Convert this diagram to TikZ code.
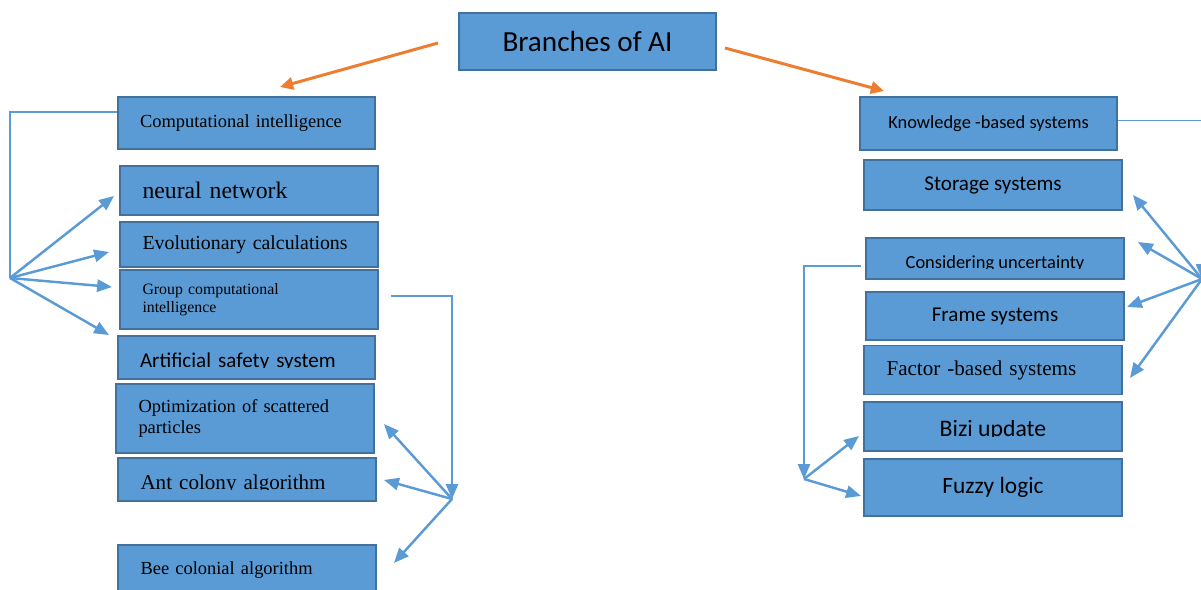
\documentclass[tikz,border=0pt]{standalone}
\usepackage{fontspec}
\usepackage{trimclip}
\setmainfont{Liberation Serif}
\newfontfamily\calibri{Carlito}
\usetikzlibrary{arrows.meta}
\definecolor{boxfill}{HTML}{5B9BD5}
\definecolor{boxline}{HTML}{41719C}
\definecolor{linkblue}{HTML}{5B9BD5}
\definecolor{branchorange}{HTML}{ED7D31}
% text cut off at its baseline
\newcommand{\cutbase}[1]{\clipbox{0pt {\depth} 0pt 0pt}{#1}}
\tikzset{
  box/.style={draw=boxline, fill=boxfill, line width=1.1pt, inner sep=0pt, align=center},
  leftbox/.style={box, text width=4.26cm, align=left},
  boxsize/.style 2 args={minimum width=#1*0.02cm, minimum height=#2*0.02cm},
  lowtext/.style={text height=11.5pt, text depth=0pt},
  link/.style={linkblue, line width=0.8pt},
  feed/.style={link, -{Triangle[length=8.5pt,width=7pt]}},
  pointer/.style={linkblue, line width=1.4pt, -{Triangle[length=8.5pt,width=7pt]}},
  branch/.style={branchorange, line width=1.7pt, -{Triangle[length=7.5pt,width=7pt]}}
}
\begin{document}
\begin{tikzpicture}[x=0.02cm, y=-0.02cm]
    \useasboundingbox (0,0) rectangle (1201,590);

    % root
    \node[box, boxsize={257}{57}, font=\calibri\fontsize{16.6}{20}\selectfont] (root) at (587.5,41.5) {Branches of AI};

    % left column
    \node[leftbox, boxsize={257}{52}, font=\fontsize{10.5}{12}\selectfont] (ci) at (246.5,123) {Computational intelligence};
    \node[leftbox, boxsize={258}{49}, font=\fontsize{13.5}{16}\selectfont] (nn) at (249,190.5) {neural network};
    \node[leftbox, boxsize={258}{45}, font=\fontsize{11.3}{13}\selectfont] (ec) at (249,244.5) {Evolutionary calculations};
    \node[leftbox, boxsize={258}{59}, font=\fontsize{9}{10}\selectfont] (gci) at (249,299.5) {Group computational\\intelligence};
    \node[leftbox, lowtext, boxsize={257}{43}, font=\calibri\fontsize{12}{14}\selectfont] (ass) at (246.5,357.5) {\cutbase{Artificial safety system}};
    \node[leftbox, boxsize={258}{69}, font=\fontsize{10.5}{11.5}\selectfont] (osp) at (245,418.5) {Optimization of scattered\\particles};
    \node[leftbox, lowtext, boxsize={258}{43}, font=\fontsize{12}{14}\selectfont] (aca) at (247,479.5) {\cutbase{Ant colony algorithm}};
    \node[leftbox, boxsize={258}{50}, font=\fontsize{10.5}{12}\selectfont] (bca) at (247,570) {Bee colonial algorithm};

    % right column
    \node[box, boxsize={257}{53}, font=\calibri\fontsize{10.5}{12}\selectfont] (kbs) at (988.5,123.5) {Knowledge -based systems};
    \node[box, boxsize={258}{50}, font=\calibri\fontsize{12}{14}\selectfont] (ss) at (993,185) {Storage systems};
    \node[box, lowtext, boxsize={258}{41}, font=\calibri\fontsize{10.5}{12}\selectfont] (cu) at (995,258.5) {\cutbase{Considering uncertainty}};
    \node[box, boxsize={258}{48}, font=\calibri\fontsize{12}{14}\selectfont] (fs) at (995,316) {Frame systems};
    \node[leftbox, boxsize={258}{49}, font=\fontsize{12}{14}\selectfont] (fbs) at (993,370) {Factor -based systems};
    \node[box, lowtext, boxsize={258}{49}, font=\calibri\fontsize{13.5}{16}\selectfont] (bu) at (993,426.5) {\cutbase{Bizi update}};
    \node[box, boxsize={258}{57}, font=\calibri\fontsize{13.3}{16}\selectfont] (fl) at (993,487.5) {Fuzzy logic};

    % hubs
    \coordinate (hubL) at (10,278);
    \coordinate (hubG) at (452,499);
    \coordinate (hubR) at (1202,279);
    \coordinate (hubU) at (804,479);

    % branches
    \draw[branch] ([shift={(-20,1.5)}]root.west) -- ([shift={(33.5,-9)}]ci.north);
    \draw[branch] ([shift={(8,6.5)}]root.east) -- ([shift={(25,-5)}]kbs.north west);

    % computational intelligence
    \draw[link] ([shift={(0,-11)}]ci.west) -| (hubL);
    \draw[pointer] (hubL) -- ([shift={(-5,5.5)}]nn.west);
    \draw[pointer] (hubL) -- ([shift={(-10,7.5)}]ec.west);
    \draw[pointer] (hubL) -- ([shift={(-7,-12.5)}]gci.west);
    \draw[pointer] (hubL) -- ([shift={(-8,0)}]ass.north west);

    % group computational intelligence
    \draw[feed] ([shift={(12,-3.5)}]gci.east) -| (hubG);
    \draw[pointer] (hubG) -- ([shift={(9,5.5)}]osp.east);
    \draw[pointer] (hubG) -- ([shift={(7,0.5)}]aca.east);
    \draw[pointer] (hubG) -- ([shift={(17,-7)}]bca.east);

    % knowledge-based systems
    \draw[feed] ([shift={(0,-3)}]kbs.east) -| (hubR);
    \draw[pointer] (hubR) -- ([shift={(10,10)}]ss.east);
    \draw[pointer] (hubR) -- ([shift={(13,-16.5)}]cu.east);
    \draw[pointer] (hubR) -- ([shift={(2,-9)}]fs.east);
    \draw[pointer] (hubR) -- ([shift={(7,8)}]fbs.east);

    % considering uncertainty
    \draw[feed] ([shift={(-4,7.5)}]cu.west) -| (hubU);
    \draw[pointer] (hubU) -- ([shift={(-4,9.5)}]bu.west);
    \draw[pointer] (hubU) -- ([shift={(-2,8.5)}]fl.west);
\end{tikzpicture}
\end{document}
